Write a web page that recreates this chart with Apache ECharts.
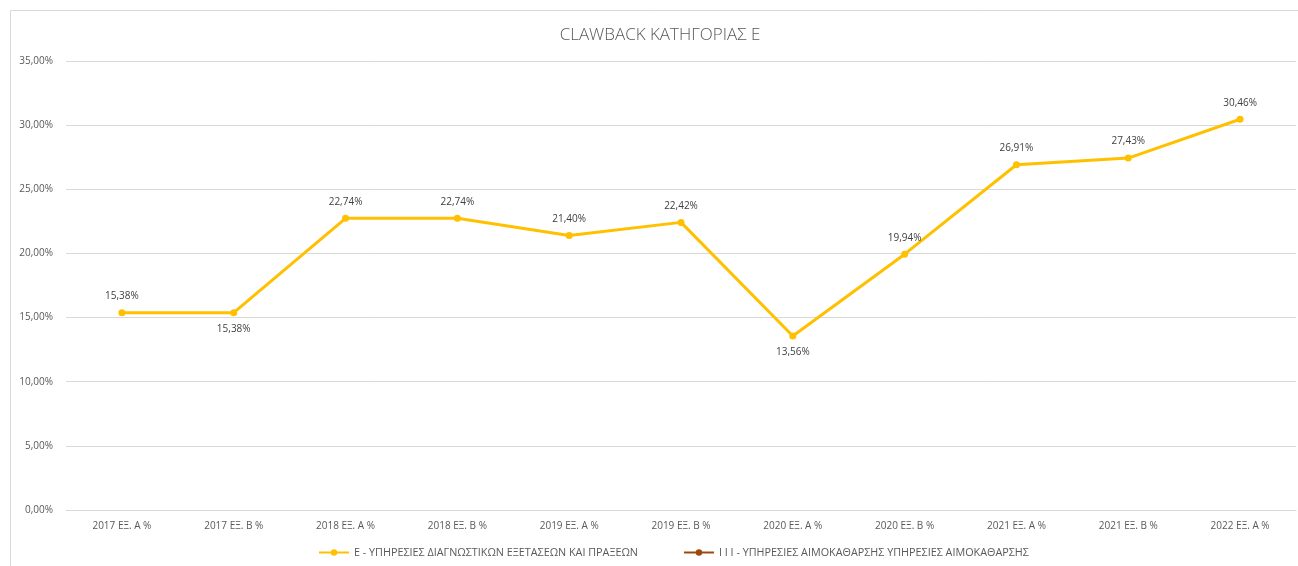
<!DOCTYPE html>
<html>
<head>
<meta charset="utf-8">
<script src="https://cdn.jsdelivr.net/npm/echarts@6/dist/echarts.min.js"></script>
<style>
  html, body { margin: 0; padding: 0; background: #fff; }
  #main { width: 1298px; height: 566px; }
</style>
</head>
<body>
<div id="main"></div>
<script>
var categories = ['2017 ΕΞ. Α %', '2017 ΕΞ. Β %', '2018 ΕΞ. Α %', '2018 ΕΞ. Β %', '2019 ΕΞ. Α %',
  '2019 ΕΞ. Β %', '2020 ΕΞ. Α %', '2020 ΕΞ. Β %', '2021 ΕΞ. Α %', '2021 ΕΞ. Β %', '2022 ΕΞ. Α %'];
var diagValues = [15.38, 15.38, 22.74, 22.74, 21.40, 22.42, 13.56, 19.94, 26.91, 27.43, 30.46];
var labelBelow = [false, true, false, false, false, false, true, false, false, false, false];
var dialysisValues = [];
var seriesNames = ['Ε - ΥΠΗΡΕΣΙΕΣ ΔΙΑΓΝΩΣΤΙΚΩΝ ΕΞΕΤΑΣΕΩΝ ΚΑΙ ΠΡΑΞΕΩΝ',
  'Ι Ι Ι - ΥΠΗΡΕΣΙΕΣ ΑΙΜΟΚΑΘΑΡΣΗΣ ΥΠΗΡΕΣΙΕΣ ΑΙΜΟΚΑΘΑΡΣΗΣ'];

function pct(v) {
  return v.toFixed(2).replace('.', ',') + '%';
}

var chart = echarts.init(document.getElementById('main'));

var diagData = diagValues.map(function (v, i) {
  return {
    value: v,
    label: { position: labelBelow[i] ? 'bottom' : 'top' }
  };
});

chart.setOption({
  animation: false,
  textStyle: { fontFamily: 'Open Sans' },
  graphic: [{
    type: 'rect',
    z: -10,
    shape: { x: 10.5, y: 10.5, width: 1400, height: 700 },
    style: { fill: 'none', stroke: '#d9d9d9', lineWidth: 1 }
  }],
  title: {
    text: 'CLAWBACK ΚΑΤΗΓΟΡΙΑΣ Ε',
    left: 655,
    top: 22,
    textAlign: 'center',
    textStyle: { color: '#595959', fontSize: 17, fontWeight: 300, fontFamily: 'Open Sans' }
  },
  legend: {
    bottom: 3,
    left: 313,
    itemWidth: 30,
    itemHeight: 8,
    itemGap: 45,
    textStyle: { color: '#595959', fontSize: 10.8 },
    data: seriesNames
  },
  grid: { left: 66, right: 2, top: 61, bottom: 56 },
  xAxis: {
    type: 'category',
    data: categories,
    axisLine: { lineStyle: { color: '#d9d9d9' } },
    axisTick: { show: false },
    axisLabel: { color: '#595959', fontSize: 10, margin: 11 }
  },
  yAxis: {
    type: 'value',
    min: 0,
    max: 35,
    interval: 5,
    axisLine: { show: false },
    axisTick: { show: false },
    splitLine: { lineStyle: { color: '#d9d9d9' } },
    axisLabel: { color: '#595959', fontSize: 10, margin: 13, formatter: pct }
  },
  series: [{
    name: seriesNames[0],
    type: 'line',
    data: diagData,
    color: '#FFC000',
    lineStyle: { width: 3 },
    symbol: 'circle',
    symbolSize: 7,
    label: {
      show: true,
      color: '#404040',
      fontSize: 10,
      distance: 8,
      formatter: function (p) { return pct(p.value); }
    }
  }, {
    name: seriesNames[1],
    type: 'line',
    data: dialysisValues,
    color: '#9E480E',
    lineStyle: { width: 3 },
    symbol: 'circle',
    symbolSize: 7
  }]
});
</script>
</body>
</html>
